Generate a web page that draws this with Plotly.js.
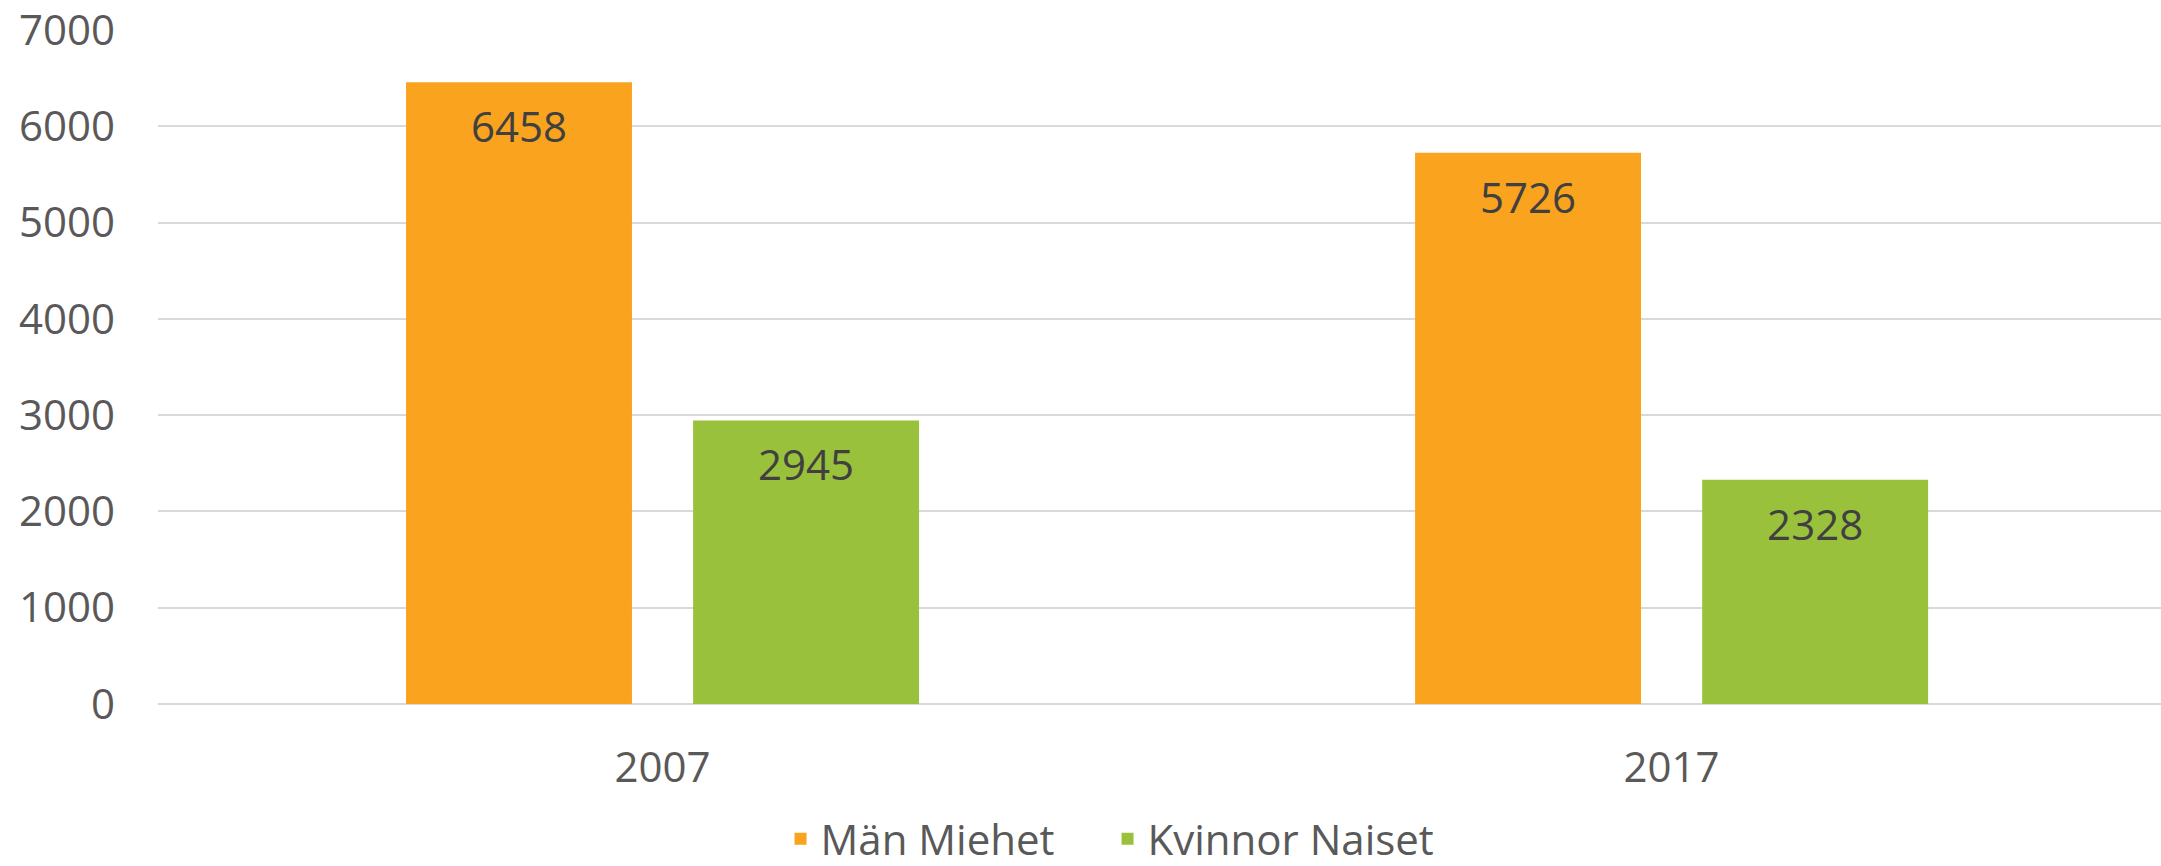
<!DOCTYPE html>
<html>
<head>
<meta charset="utf-8">
<script src="https://cdn.plot.ly/plotly-3.0.1.min.js"></script>
<style>html,body{margin:0;padding:0;background:#fff}#chart{width:2161px;height:866px}</style>
</head>
<body>
<div id="chart"></div>
<script>
const years = ["2007", "2017"];
const menValues = [6458, 5726];
const womenValues = [2945, 2328];
const seriesNames = ["Män Miehet", "Kvinnor Naiset"];
const yTicks = [0, 1000, 2000, 3000, 4000, 5000, 6000, 7000];

const FONT = "Open Sans, Liberation Sans, sans-serif";
const labelFont = {family: FONT, size: 42, color: "#404040"};
// invisible padding span that pushes the value label down from the bar top
const PAD = '<span style="font-size:53px">\u00A0</span>';
const label = v => PAD + String(v) + PAD;

const traces = [
  {type: "bar", name: seriesNames[0], x: years, y: menValues,
   marker: {color: "#F9A31F"}, text: menValues.map(label), textposition: "inside",
   insidetextanchor: "end", insidetextfont: labelFont, textangle: 0, hoverinfo: "skip"},
  {type: "bar", name: seriesNames[1], x: years, y: womenValues,
   marker: {color: "#9AC13C"}, text: womenValues.map(label), textposition: "inside",
   insidetextanchor: "end", insidetextfont: labelFont, textangle: 0, hoverinfo: "skip"}
];

const layout = {
  width: 2161, height: 866,
  margin: {l: 158, r: 0, t: 30, b: 162, autoexpand: false},
  paper_bgcolor: "#fff", plot_bgcolor: "#fff",
  barmode: "group", bargap: 0.431, bargroupgap: 0.213,
  font: {family: FONT, size: 42, color: "#595959"},
  xaxis: {type: "category", range: [-0.5, 1.485], showgrid: false, zeroline: false,
          showline: false, ticks: "", ticklabelstandoff: 35, ticklabeloverflow: "allow",
          tickfont: {family: FONT, size: 42, color: "#595959"}},
  yaxis: {range: [0, 7000], tickvals: yTicks, ticktext: yTicks.map(String),
          showgrid: true, gridcolor: "#D9D9D9", gridwidth: 2, zeroline: true,
          zerolinecolor: "#D9D9D9", zerolinewidth: 2, showline: false, ticks: "",
          ticklabelstandoff: 42, ticklabeloverflow: "allow",
          tickfont: {family: FONT, size: 42, color: "#595959"}},
  showlegend: true,
  legend: {orientation: "h", x: 0.3108, xanchor: "left", y: -0.2507, yanchor: "bottom",
           font: {family: FONT, size: 42, color: "#595959"}, itemwidth: 30,
           entrywidth: 282, traceorder: "normal"}
};

Plotly.newPlot("chart", traces, layout, {displayModeBar: false, staticPlot: true});
</script>
</body>
</html>
